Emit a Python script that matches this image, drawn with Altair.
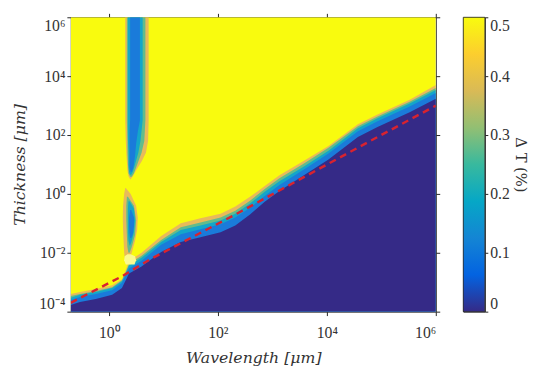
import math
import altair as alt
import pandas as pd

# ---------------- values (log10 units) ----------------
# lower transition band: sample positions (log10 wavelength in um)
band_loglam = [-0.70, -0.53, -0.24, 0.06, 0.24, 0.30, 0.37, 0.60, 0.96, 1.32, 1.68,
               2.05, 2.32, 2.59, 2.86, 3.13, 3.58, 4.03, 4.57, 4.93, 5.52, 6.00]
# log10 thickness (um) of the upper edge of each filled contour level
edge_navy = [-3.77, -3.67, -3.57, -3.43, -3.20, -2.97, -2.70, -2.47, -1.97, -1.63, -1.47,
             -1.30, -1.07, -0.70, -0.27, 0.10, 0.63, 1.17, 1.93, 2.27, 2.77, 3.23]
edge_blue = [-3.60, -3.50, -3.40, -3.27, -3.03, -2.80, -2.53, -2.27, -1.73, -1.37, -1.20,
             -1.03, -0.80, -0.47, -0.07, 0.30, 0.83, 1.37, 2.13, 2.47, 2.97, 3.43]
edge_cyan = [-3.53, -3.43, -3.33, -3.20, -2.97, -2.73, -2.43, -2.17, -1.63, -1.23, -1.07,
             -0.90, -0.67, -0.33, 0.07, 0.43, 0.93, 1.47, 2.23, 2.57, 3.07, 3.53]
edge_green = [-3.47, -3.40, -3.30, -3.17, -2.93, -2.70, -2.37, -2.10, -1.57, -1.13, -0.97,
              -0.80, -0.57, -0.23, 0.17, 0.53, 1.03, 1.57, 2.30, 2.63, 3.13, 3.60]
edge_orange = [-3.40, -3.33, -3.23, -3.10, -2.90, -2.63, -2.27, -2.00, -1.43, -1.00, -0.83,
               -0.67, -0.43, -0.10, 0.27, 0.63, 1.13, 1.63, 2.37, 2.70, 3.20, 3.70]

# vertical stripe near 2-5 um: log10 thickness, left / right log10 wavelength
stripe_orange_t = [6.0, 2.5, 1.8, 1.4, 1.1, 0.8, 0.6, 0.5]
stripe_orange_l = [0.30, 0.30, 0.31, 0.32, 0.33, 0.34, 0.36, 0.39]
stripe_orange_r = [0.73, 0.73, 0.72, 0.68, 0.60, 0.50, 0.44, 0.40]
stripe_green_t = [6.0, 2.5, 1.8, 1.4, 1.0, 0.7, 0.58]
stripe_green_l = [0.33, 0.33, 0.34, 0.34, 0.35, 0.36, 0.39]
stripe_green_r = [0.67, 0.67, 0.65, 0.60, 0.52, 0.46, 0.42]
stripe_cyan_t = [6.0, 2.5, 1.8, 1.4, 1.0, 0.75, 0.65]
stripe_cyan_l = [0.35, 0.35, 0.35, 0.36, 0.36, 0.37, 0.39]
stripe_cyan_r = [0.62, 0.62, 0.58, 0.54, 0.48, 0.44, 0.41]
stripe_blue_t = [6.0, 2.5, 2.1, 1.7, 1.3, 0.9, 0.75]
stripe_blue_l = [0.39, 0.39, 0.38, 0.38, 0.38, 0.38, 0.40]
stripe_blue_r = [0.57, 0.57, 0.53, 0.50, 0.48, 0.45, 0.42]

# spindle-shaped island below the stripe
spindle_orange_t = [0.20, 0.0, -0.4, -0.8, -1.2, -1.6, -2.0, -2.3]
spindle_orange_l = [0.30, 0.28, 0.26, 0.255, 0.26, 0.27, 0.28, 0.30]
spindle_orange_r = [0.31, 0.40, 0.50, 0.53, 0.52, 0.48, 0.42, 0.36]
spindle_green_t = [-0.10, -0.4, -0.9, -1.4, -1.8, -2.0]
spindle_green_l = [0.33, 0.32, 0.32, 0.33, 0.34, 0.36]
spindle_green_r = [0.35, 0.46, 0.50, 0.48, 0.42, 0.38]
spindle_cyan_t = [-0.25, -0.5, -0.9, -1.3, -1.6, -1.75]
spindle_cyan_l = [0.36, 0.35, 0.35, 0.35, 0.36, 0.38]
spindle_cyan_r = [0.38, 0.46, 0.48, 0.46, 0.42, 0.39]
spindle_blue_t = [-0.55, -0.8, -1.1, -1.35, -1.5]
spindle_blue_l = [0.39, 0.37, 0.37, 0.38, 0.39]
spindle_blue_r = [0.41, 0.46, 0.46, 0.44, 0.41]

# pale blob just above the step
blob_t = [-2.05, -2.12, -2.25, -2.40]
blob_l = [0.34, 0.29, 0.28, 0.31]
blob_r = [0.40, 0.48, 0.50, 0.47]

# red dashed reference line
red_loglam = [-0.70, 0.24, 0.75, 2.32, 4.57, 6.00]
red_logt = [-3.70, -2.80, -2.23, -0.70, 1.57, 3.00]

# axes
x_tick_values = [1, 1e2, 1e4, 1e6]
x_tick_labels = ["10⁰", "10²", "10⁴", "10⁶"]
y_tick_values = [1e-4, 1e-2, 1, 1e2, 1e4, 1e6]
y_tick_labels = ["10⁻⁴", "10⁻²", "10⁰", "10²", "10⁴", "10⁶"]
cbar_ticks = [0, 0.1, 0.2, 0.3, 0.4, 0.5]

# colours (parula)
C_NAVY = "#352A87"
C_BLUE = "#1A7BDA"
C_CYAN = "#14A6C9"
C_GREEN = "#62BC8B"
C_ORANGE = "#E8BA5A"
C_YELLOW = "#F9FB0E"
C_BLOB = "#FAFA90"
parula_offsets = [0.0, 0.125, 0.25, 0.375, 0.5, 0.625, 0.75, 0.875, 1.0]
parula_colors = ["#352A87", "#0363E1", "#1485D4", "#06A7C6", "#38B99E",
                 "#92BF73", "#D9BA56", "#FCCE2E", "#F9FB0E"]

# ---------------- chart ----------------
LAB_FONT = "Liberation Serif"
TIT_FONT = "DejaVu Serif"
AX_COL = "#262626"

xscale = alt.Scale(type="log", domain=[0.2, 1e6], nice=False)
yscale = alt.Scale(type="log", domain=[1e-4, 1e6], nice=False)


def label_expr(values, labels):
    expr = "''"
    for v, l in zip(reversed(values), reversed(labels)):
        expr = f"(abs(log(datum.value)/LN10 - ({math.log10(v)})) < 0.01 ? '{l}' : {expr})"
    return expr


x_axis_main = alt.Axis(orient="bottom", values=x_tick_values,
                       labelExpr=label_expr(x_tick_values, x_tick_labels),
                       tickSize=4, tickColor=AX_COL, domain=False, grid=False,
                       labelFont=LAB_FONT, labelFontSize=16, labelColor="#333333",
                       labelPadding=9, title="Wavelength [μm]", titleFont=TIT_FONT,
                       titleFontStyle="italic", titleFontWeight="normal",
                       titleFontSize=16, titleColor="#333333", titlePadding=10)
y_axis_main = alt.Axis(orient="left", values=y_tick_values,
                       labelExpr=label_expr(y_tick_values, y_tick_labels),
                       tickSize=4, tickColor=AX_COL, domain=False, grid=False,
                       labelFont=LAB_FONT, labelFontSize=16, labelColor="#333333",
                       labelPadding=2, labelFlush=True,
                       title="Thickness [μm]", titleFont=TIT_FONT,
                       titleFontStyle="italic", titleFontWeight="normal",
                       titleFontSize=16, titleColor="#333333", titlePadding=12)
x_axis_top = alt.Axis(orient="top", values=x_tick_values, labels=False, tickSize=4,
                      tickColor=AX_COL, domain=False, grid=False, title=None)
y_axis_right = alt.Axis(orient="right", values=y_tick_values, labels=False, tickSize=4,
                        tickColor=AX_COL, domain=False, grid=False, title=None)

layers = []

# background (top contour level fills the whole domain)
bg = pd.DataFrame({"lam": [0.2, 1e6], "top": [1e6, 1e6], "bot": [1e-4, 1e-4]})
layers.append(alt.Chart(bg).mark_area(color=C_YELLOW, clip=True, orient="vertical").encode(
    x=alt.X("lam:Q", scale=xscale, axis=x_axis_main),
    y=alt.Y("top:Q", scale=yscale, axis=y_axis_main),
    y2="bot:Q"))

for edge, col in [(edge_orange, C_ORANGE), (edge_green, C_GREEN), (edge_cyan, C_CYAN),
                  (edge_blue, C_BLUE), (edge_navy, C_NAVY)]:
    df = pd.DataFrame({"lam": [10 ** v for v in band_loglam],
                       "top": [10 ** v for v in edge],
                       "bot": [1e-4] * len(edge)})
    layers.append(alt.Chart(df).mark_area(color=col, clip=True, orient="vertical").encode(
        x=alt.X("lam:Q", scale=xscale, axis=None),
        y=alt.Y("top:Q", scale=yscale, axis=None),
        y2="bot:Q"))

islands = [
    (stripe_orange_t, stripe_orange_l, stripe_orange_r, C_ORANGE),
    (stripe_green_t, stripe_green_l, stripe_green_r, C_GREEN),
    (stripe_cyan_t, stripe_cyan_l, stripe_cyan_r, C_CYAN),
    (stripe_blue_t, stripe_blue_l, stripe_blue_r, C_BLUE),
    (spindle_orange_t, spindle_orange_l, spindle_orange_r, C_ORANGE),
    (spindle_green_t, spindle_green_l, spindle_green_r, C_GREEN),
    (spindle_cyan_t, spindle_cyan_l, spindle_cyan_r, C_CYAN),
    (spindle_blue_t, spindle_blue_l, spindle_blue_r, C_BLUE),
    (blob_t, blob_l, blob_r, C_BLOB),
]
for t, l, r, col in islands:
    df = pd.DataFrame({"t": [10 ** v for v in t],
                       "l": [10 ** v for v in l],
                       "r": [10 ** v for v in r]})
    layers.append(alt.Chart(df).mark_area(color=col, clip=True, orient="horizontal").encode(
        y=alt.Y("t:Q", scale=yscale, axis=None),
        x=alt.X("l:Q", scale=xscale, axis=None),
        x2="r:Q"))

red_df = pd.DataFrame({"lam": [10 ** v for v in red_loglam],
                       "t": [10 ** v for v in red_logt]})
layers.append(alt.Chart(red_df).mark_line(color="#D8232F", strokeWidth=2.5,
                                          strokeDash=[7, 5], clip=True).encode(
    x=alt.X("lam:Q", scale=xscale, axis=x_axis_top),
    y=alt.Y("t:Q", scale=yscale, axis=y_axis_right)))

main = alt.layer(*layers).resolve_axis(x="independent", y="independent").properties(
    width=372, height=300)

# colour bar
cb_df = pd.DataFrame({"k": ["c"], "lo": [0.0], "hi": [0.5]})
grad = alt.Gradient(gradient="linear",
                    stops=[alt.GradientStop(color=c, offset=o)
                           for o, c in zip(parula_offsets, parula_colors)],
                    x1=0, x2=0, y1=1, y2=0)
cbar = alt.Chart(cb_df).mark_rect(fill=grad, stroke=AX_COL, strokeWidth=0.8).encode(
    x=alt.X("k:N", axis=None, scale=alt.Scale(paddingInner=0, paddingOuter=0)),
    y=alt.Y("lo:Q", scale=alt.Scale(domain=[0, 0.5], nice=False),
            axis=alt.Axis(orient="right", values=cbar_ticks, format=".1~f",
                          tickSize=3, tickColor=AX_COL, domain=False, grid=False,
                          labelFont=LAB_FONT, labelFontSize=16, labelColor="#333333",
                          labelPadding=2, labelFlush=True,
                          title="Δ T (%)", titleAngle=90, titleFont=TIT_FONT,
                          titleFontSize=15, titleFontWeight="normal",
                          titleColor="#333333", titlePadding=3)),
    y2="hi:Q").properties(width=22, height=300)

chart = alt.hconcat(main, cbar, spacing=22).configure(
    padding={"left": 2, "top": 1, "right": 2, "bottom": 0}
).configure_view(stroke=AX_COL, strokeWidth=1)

chart.save("out.html", embed_options={"renderer": "svg", "actions": False})
